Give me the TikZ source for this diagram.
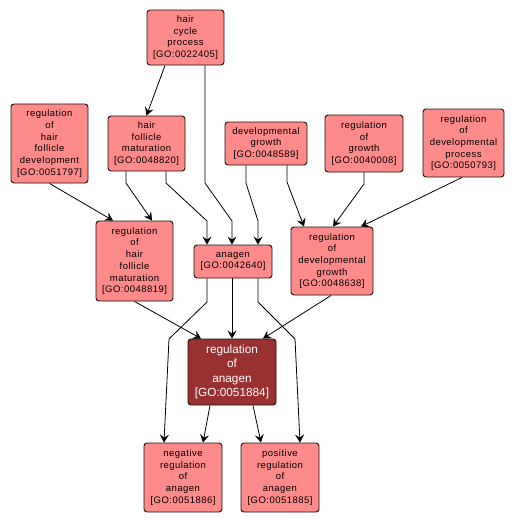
\documentclass[tikz,border=0pt]{standalone}
\usepackage{fontspec}
\usetikzlibrary{arrows.meta}
\newfontfamily\lab[LetterSpace=5]{Liberation Sans}
\newfontfamily\labb{Liberation Sans}
\definecolor{lightfill}{RGB}{255,138,138}
\definecolor{darkfill}{RGB}{153,49,49}
\definecolor{edgecol}{RGB}{30,15,15}
\tikzset{
  term/.style={draw=edgecol, line width=0.9pt, fill=lightfill, rounded corners=3pt,
    inner sep=0pt, align=center, font=\lab\fontsize{9.5}{11.7}\selectfont},
  mainterm/.style={term, fill=darkfill, text=white, font=\labb\fontsize{11.8}{14.2}\selectfont},
  edge/.style={draw=black, line width=0.8pt, -{Stealth[length=8pt,width=9pt,inset=3pt]}}
}
\begin{document}
\begin{tikzpicture}[x=1pt,y=-1pt]
\useasboundingbox (0,0) rectangle (515,522);
\node[term, minimum width=77pt, minimum height=55pt] (hcp) at (185.5,37.5) {hair\\cycle\\process\\{}[GO:0022405]};
\node[term, minimum width=77pt, minimum height=55pt] (hfm) at (146.5,143.5) {hair\\follicle\\maturation\\{}[GO:0048820]};
\node[term, minimum width=77pt, minimum height=79pt] (rhfd) at (49.5,143.5) {regulation\\of\\hair\\follicle\\development\\{}[GO:0051797]};
\node[term, minimum width=82pt, minimum height=43pt] (dg) at (266,143.5) {developmental\\growth\\{}[GO:0048589]};
\node[term, minimum width=78pt, minimum height=57pt] (rog) at (364,143.5) {regulation\\of\\growth\\{}[GO:0040008]};
\node[term, minimum width=81pt, minimum height=68pt] (rdp) at (463.5,143) {regulation\\of\\developmental\\process\\{}[GO:0050793]};
\node[term, minimum width=77pt, minimum height=80pt] (rhfm) at (134.5,261) {regulation\\of\\hair\\follicle\\maturation\\{}[GO:0048819]};
\node[term, minimum width=78pt, minimum height=33pt] (ana) at (233,261.5) {anagen\\{}[GO:0042640]};
\node[term, minimum width=82pt, minimum height=68pt] (rdg) at (332,261) {regulation\\of\\developmental\\growth\\{}[GO:0048638]};
\node[mainterm, minimum width=88pt, minimum height=66pt] (roa) at (232,372) {regulation\\of\\anagen\\{}[GO:0051884]};
\node[term, minimum width=78pt, minimum height=69pt] (neg) at (183,477.5) {negative\\regulation\\of\\anagen\\{}[GO:0051886]};
\node[term, minimum width=78pt, minimum height=69pt] (pos) at (280,477.5) {positive\\regulation\\of\\anagen\\{}[GO:0051885]};
% edges
\draw[edge] ([xshift=-20.5pt]hcp.south) -- (hfm.north);
\draw[edge] ([xshift=19.5pt]hcp.south) -- (205,183) -- (232,221) -- ([xshift=-1pt]ana.north);
\draw[edge] ([xshift=19.5pt]hfm.south) -- (166,183) -- (207,221) -- ([xshift=-26pt]ana.north);
\draw[edge] ([xshift=-20.5pt]hfm.south) -- (126,183) -- ([xshift=17.5pt]rhfm.north);
\draw[edge] (rhfd.south) -- ([xshift=-21.5pt]rhfm.north);
\draw[edge] ([xshift=-20pt]dg.south) -- (246,183) -- (258,221) -- ([xshift=25pt]ana.north);
\draw[edge] ([xshift=21pt]dg.south) -- (287,182) -- ([xshift=-28pt]rdg.north);
\draw[edge] (rog.south) -- (364,184) -- ([xshift=1pt]rdg.north);
\draw[edge] ([xshift=-1.5pt]rdp.south) -- ([xshift=29pt]rdg.north);
\draw[edge] (rhfm.south) -- ([xshift=-31pt]roa.north);
\draw[edge] ([xshift=-1pt]ana.south) -- (roa.north);
\draw[edge] ([xshift=-1pt]rdg.south) -- ([xshift=31pt]roa.north);
\draw[edge] ([xshift=-26pt]ana.south) -- (207,302) -- (169,339) -- ([xshift=-19pt]neg.north);
\draw[edge] ([xshift=25pt]ana.south) -- (258,302) -- (295,339) -- ([xshift=20pt]pos.north);
\draw[edge] ([xshift=-22pt]roa.south) -- ([xshift=20pt]neg.north);
\draw[edge] ([xshift=21pt]roa.south) -- ([xshift=-19pt]pos.north);
\end{tikzpicture}
\end{document}
